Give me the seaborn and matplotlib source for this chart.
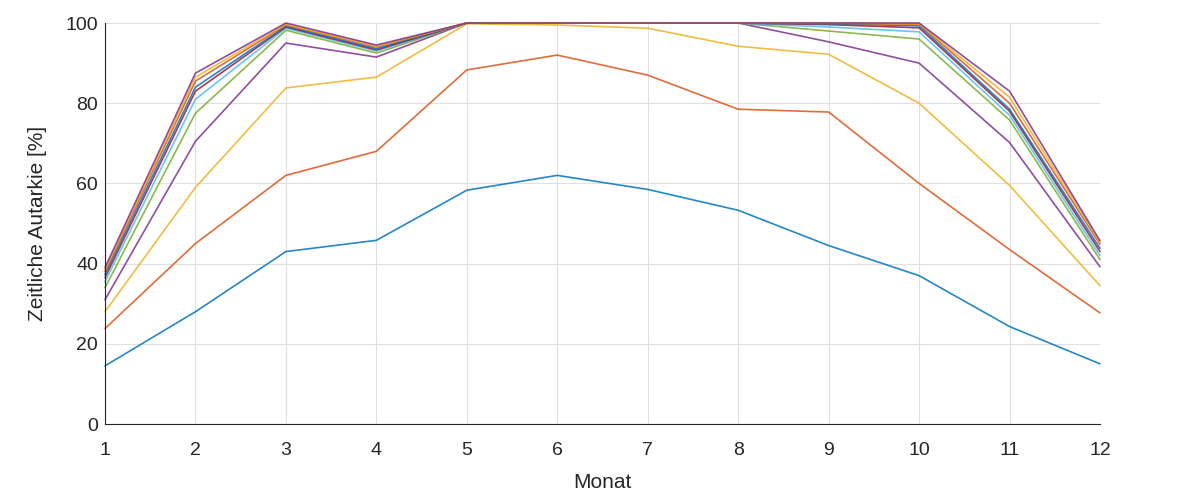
import matplotlib
matplotlib.use("Agg")
import matplotlib.pyplot as plt
import seaborn as sns
import pandas as pd

months = list(range(1, 13))
s01 = [14.5, 28.0, 43.0, 45.8, 58.3, 62.0, 58.5, 53.3, 44.5, 37.0, 24.3, 15.0]
s02 = [23.8, 45.0, 62.0, 68.0, 88.3, 92.0, 87.0, 78.5, 77.8, 60.0, 43.5, 27.7]
s03 = [28.0, 59.0, 83.8, 86.5, 99.8, 99.5, 98.7, 94.2, 92.2, 80.0, 59.5, 34.5]
s04 = [31.0, 70.5, 95.0, 91.5, 100.0, 100.0, 100.0, 100.0, 95.3, 90.0, 70.2, 39.2]
s05 = [34.0, 77.5, 98.2, 92.5, 100.0, 100.0, 100.0, 100.0, 98.0, 96.0, 75.8, 41.0]
s06 = [35.5, 81.0, 98.7, 93.0, 100.0, 100.0, 100.0, 100.0, 99.0, 97.8, 77.0, 42.0]
s07 = [36.5, 83.0, 99.0, 93.3, 100.0, 100.0, 100.0, 100.0, 99.6, 98.8, 78.0, 43.0]
s08 = [37.3, 84.0, 99.2, 93.6, 100.0, 100.0, 100.0, 100.0, 99.8, 99.3, 78.5, 43.8]
s09 = [38.0, 85.5, 99.5, 94.0, 100.0, 100.0, 100.0, 100.0, 99.9, 99.7, 80.0, 44.8]
s10 = [38.5, 86.5, 99.7, 94.2, 100.0, 100.0, 100.0, 100.0, 100.0, 99.8, 81.5, 45.3]
s11 = [39.0, 87.5, 100.0, 94.5, 100.0, 100.0, 100.0, 100.0, 100.0, 100.0, 83.0, 45.7]
series = [s01, s02, s03, s04, s05, s06, s07, s08, s09, s10, s11]
series_names = [f"S{i+1}" for i in range(len(series))]

xlabel = "Monat"
ylabel = "Zeitliche Autarkie [%]"

matlab_colors = ["#0072BD", "#D95319", "#EDB120", "#7E2F8E", "#77AC30",
                 "#4DBEEE", "#A2142F"]
palette = [matlab_colors[i % 7] for i in range(len(series))]

rows = []
for name, vals in zip(series_names, series):
    for m, v in zip(months, vals):
        rows.append({"Monat": m, "Wert": v, "Serie": name})
df = pd.DataFrame(rows)

sns.set_style("white")
plt.rcParams['font.family'] = ['Liberation Sans', 'DejaVu Sans']

fig = plt.figure(figsize=(12.04, 4.98), dpi=100)
ax = fig.add_axes([105/1204, 1-424/498, 995/1204, 401/498])

sns.lineplot(data=df, x="Monat", y="Wert", hue="Serie", palette=palette,
             linewidth=1.2, alpha=0.85, legend=False, ax=ax, sort=False)
for ln in ax.lines:
    ln.set_clip_on(False)

ax.set_xlim(1, 12)
ax.set_ylim(0, 100)
ax.set_xticks(months)
ax.set_yticks([0, 20, 40, 60, 80, 100])
ax.grid(True, color="#e0e0e0", linewidth=0.8)
ax.set_axisbelow(True)
for side in ["top", "right"]:
    ax.spines[side].set_visible(False)
for side in ["left", "bottom"]:
    ax.spines[side].set_color("#262626")
    ax.spines[side].set_linewidth(0.8)
ax.tick_params(axis="both", direction="in", length=5, width=0.8, color="#262626",
               labelsize=14, labelcolor="#262626")
ax.tick_params(axis="x", pad=13)
ax.tick_params(axis="y", pad=5)
ax.set_xlabel(xlabel, fontsize=15, color="#262626", labelpad=10)
ax.set_ylabel(ylabel, fontsize=15, color="#262626", labelpad=13)

fig.savefig("out.png", dpi=100)
